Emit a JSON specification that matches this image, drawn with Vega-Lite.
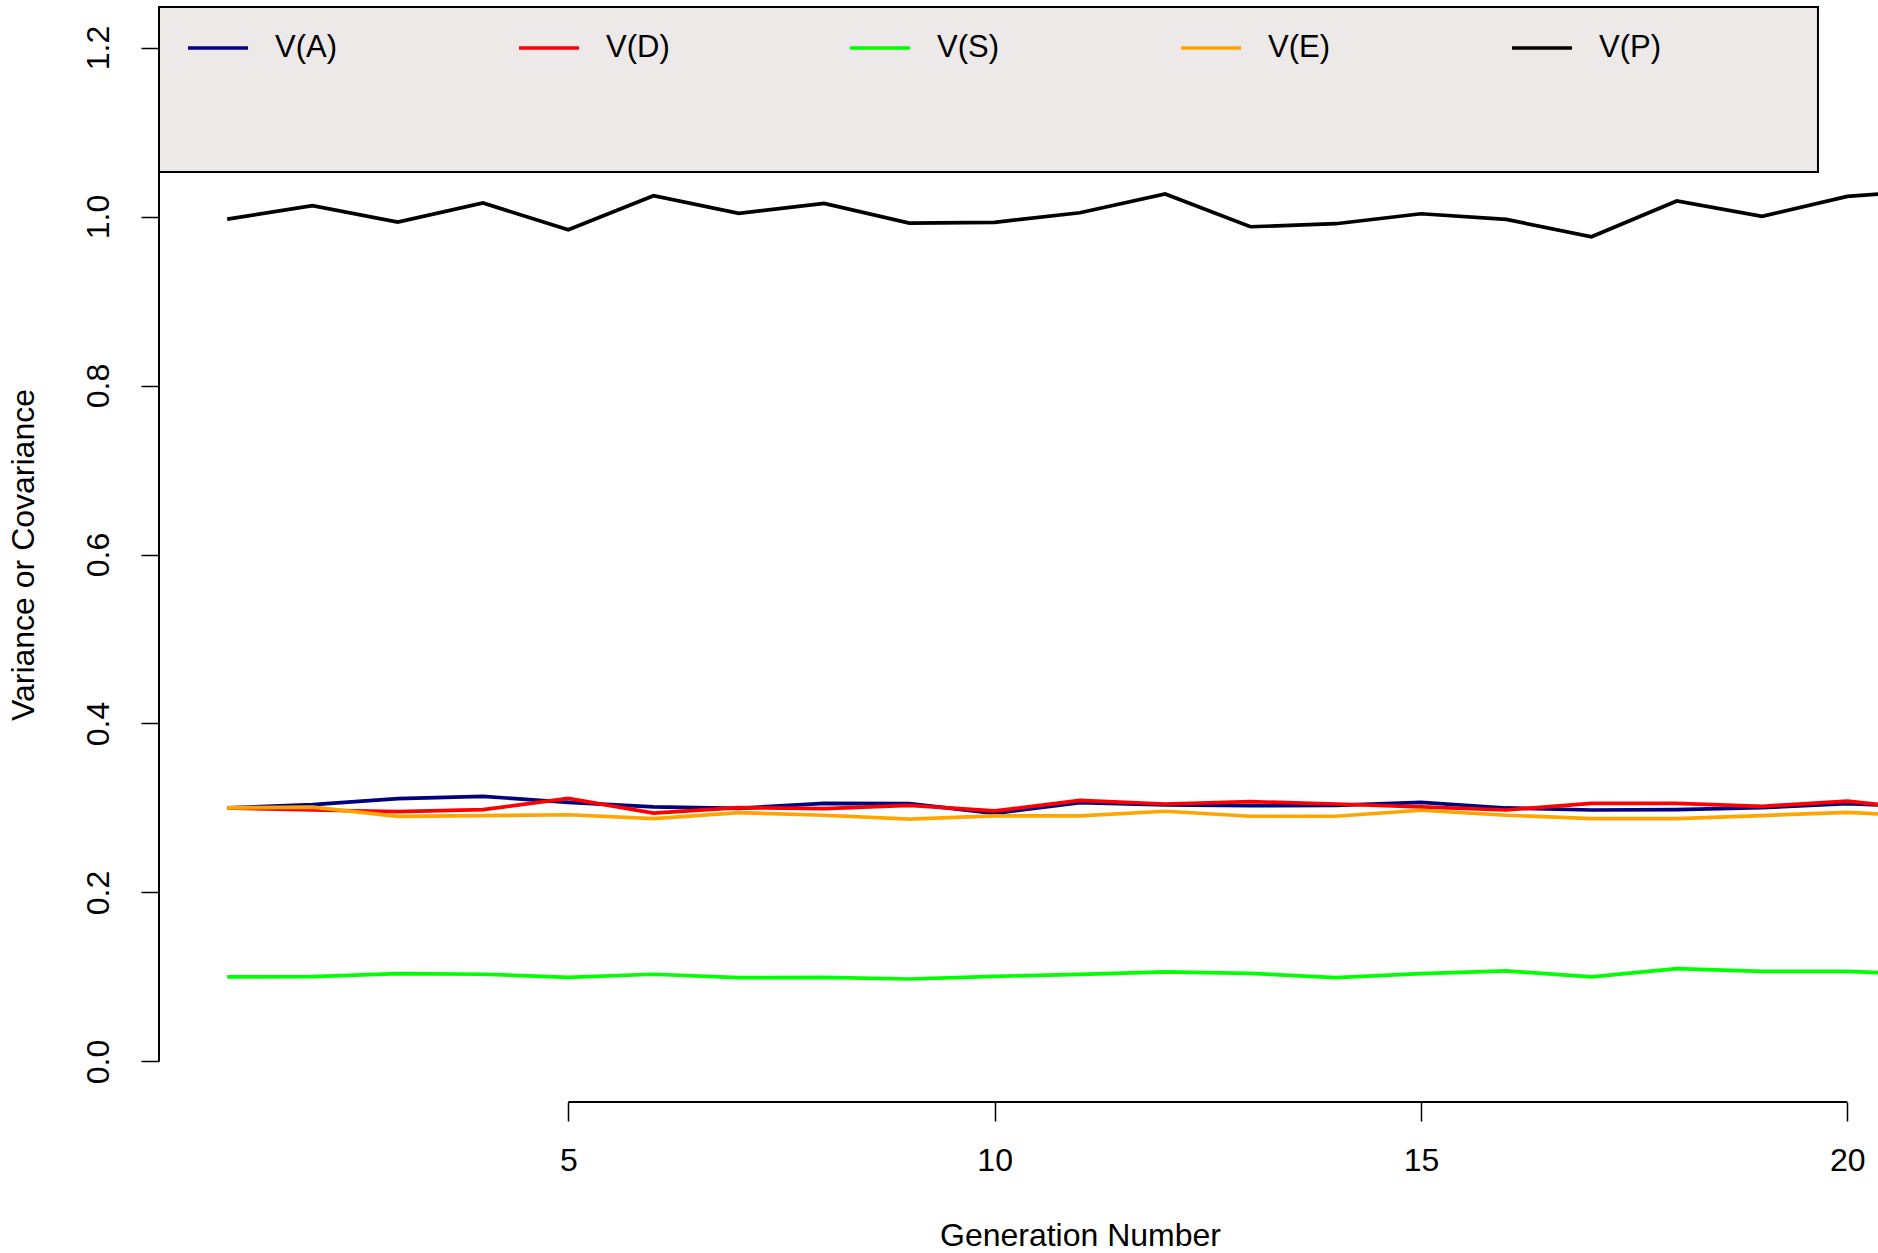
{
  "$schema": "https://vega.github.io/schema/vega-lite/v6.json",
  "width": 1719,
  "height": 1095,
  "autosize": {"type": "none"},
  "padding": {"left": 159, "top": 7, "right": 0, "bottom": 151},
  "background": "white",
  "config": {"view": {"stroke": null}, "font": "Liberation Sans", "axis": {"grid": false}},
  "data": {"values": [
    {"gen": 1, "A": 0.300, "D": 0.300, "S": 0.100, "E": 0.300, "P": 0.997},
    {"gen": 2, "A": 0.304, "D": 0.2976, "S": 0.1004, "E": 0.301, "P": 1.0128},
    {"gen": 3, "A": 0.311, "D": 0.2957, "S": 0.1039, "E": 0.290, "P": 0.9935},
    {"gen": 4, "A": 0.3137, "D": 0.298, "S": 0.1032, "E": 0.291, "P": 1.016},
    {"gen": 5, "A": 0.3067, "D": 0.3114, "S": 0.0996, "E": 0.292, "P": 0.9844},
    {"gen": 6, "A": 0.3012, "D": 0.294, "S": 0.1032, "E": 0.2874, "P": 1.0247},
    {"gen": 7, "A": 0.2996, "D": 0.3004, "S": 0.0992, "E": 0.2945, "P": 1.0038},
    {"gen": 8, "A": 0.3055, "D": 0.2992, "S": 0.0996, "E": 0.2914, "P": 1.0156},
    {"gen": 9, "A": 0.3051, "D": 0.3031, "S": 0.0976, "E": 0.2867, "P": 0.9923},
    {"gen": 10, "A": 0.2937, "D": 0.2965, "S": 0.1008, "E": 0.2906, "P": 0.9931},
    {"gen": 11, "A": 0.3063, "D": 0.309, "S": 0.1031, "E": 0.2906, "P": 1.0045},
    {"gen": 12, "A": 0.3035, "D": 0.3047, "S": 0.1059, "E": 0.2961, "P": 1.0267},
    {"gen": 13, "A": 0.3028, "D": 0.3075, "S": 0.1043, "E": 0.2902, "P": 0.9879},
    {"gen": 14, "A": 0.3031, "D": 0.3047, "S": 0.0992, "E": 0.2902, "P": 0.9915},
    {"gen": 15, "A": 0.3067, "D": 0.3012, "S": 0.1039, "E": 0.2973, "P": 1.0033},
    {"gen": 16, "A": 0.300, "D": 0.2976, "S": 0.1071, "E": 0.2914, "P": 0.9966},
    {"gen": 17, "A": 0.2976, "D": 0.3055, "S": 0.100, "E": 0.2874, "P": 0.9761},
    {"gen": 18, "A": 0.298, "D": 0.3055, "S": 0.1098, "E": 0.2874, "P": 1.0184},
    {"gen": 19, "A": 0.3004, "D": 0.302, "S": 0.1067, "E": 0.291, "P": 1.0002},
    {"gen": 20, "A": 0.3051, "D": 0.3082, "S": 0.1067, "E": 0.2949, "P": 1.0239},
    {"gen": 21, "A": 0.3008, "D": 0.2969, "S": 0.1024, "E": 0.2894, "P": 1.031}
  ]},
  "layer": [
    {
      "transform": [{"fold": ["A", "D", "S", "E", "P"], "as": ["series", "value"]}],
      "mark": {"type": "line", "strokeWidth": 3.7, "clip": true},
      "encoding": {
        "x": {
          "field": "gen", "type": "quantitative",
          "scale": {"domain": [0.2, 20.36], "nice": false, "zero": false},
          "axis": {
            "values": [5, 10, 15, 20], "format": "d", "domain": false,
            "tickSize": 19, "tickWidth": 1.5, "tickColor": "black",
            "labelFontSize": 32, "labelColor": "black", "labelBaseline": "alphabetic", "labelPadding": 49,
            "labelFlush": false, "labelOverlap": false,
            "title": "Generation Number", "titleFontSize": 32, "titleFontWeight": "normal", "titleColor": "black",
            "titleX": 921, "titleY": 143, "titleAlign": "center", "titleBaseline": "alphabetic"
          }
        },
        "y": {
          "field": "value", "type": "quantitative",
          "scale": {"domain": [-0.048, 1.248], "nice": false, "zero": false},
          "axis": {
            "values": [0, 0.2, 0.4, 0.6, 0.8, 1.0, 1.2], "format": ".1f", "domain": false,
            "tickSize": 18, "tickWidth": 1.5, "tickColor": "black",
            "labelFontSize": 32, "labelColor": "black", "labelAngle": 270, "labelAlign": "center",
            "labelBaseline": "alphabetic", "labelPadding": 33, "labelFlush": false, "labelOverlap": false,
            "title": "Variance or Covariance", "titleFontSize": 32, "titleFontWeight": "normal", "titleColor": "black",
            "titleAngle": 270, "titleX": -126, "titleY": 547.5, "titleAlign": "center", "titleBaseline": "alphabetic"
          }
        },
        "color": {
          "field": "series", "type": "nominal",
          "scale": {"domain": ["A", "D", "S", "E", "P"], "range": ["#000080", "#FF0000", "#00FF00", "#FFA500", "#000000"]},
          "legend": {
            "orient": "none", "legendX": 27, "legendY": 9, "direction": "horizontal", "columns": 5,
            "gridAlign": "all", "columnPadding": 172, "padding": 0, "title": null,
            "symbolType": "stroke", "symbolSize": 3600, "symbolStrokeWidth": 3.7,
            "labelFontSize": 31, "labelColor": "black", "labelOffset": 25, "labelLimit": 400,
            "labelExpr": "'V(' + datum.label + ')'"
          }
        }
      }
    },
    {
      "data": {"values": [{}]},
      "mark": {"type": "rect", "fill": "#EEE9E9", "stroke": "black", "strokeWidth": 2},
      "encoding": {
        "x": {"datum": 0.2, "type": "quantitative"},
        "x2": {"datum": 19.656},
        "y": {"datum": 1.248, "type": "quantitative"},
        "y2": {"datum": 1.0527}
      }
    },
    {
      "data": {"values": [{}]},
      "mark": {"type": "rule", "stroke": "black", "strokeWidth": 2},
      "encoding": {
        "x": {"datum": 5, "type": "quantitative"},
        "x2": {"datum": 20},
        "y": {"datum": -0.048, "type": "quantitative"}
      }
    },
    {
      "data": {"values": [{}]},
      "mark": {"type": "rule", "stroke": "black", "strokeWidth": 2},
      "encoding": {
        "x": {"datum": 0.2, "type": "quantitative"},
        "y": {"datum": 0, "type": "quantitative"},
        "y2": {"datum": 1.2}
      }
    }
  ]
}
